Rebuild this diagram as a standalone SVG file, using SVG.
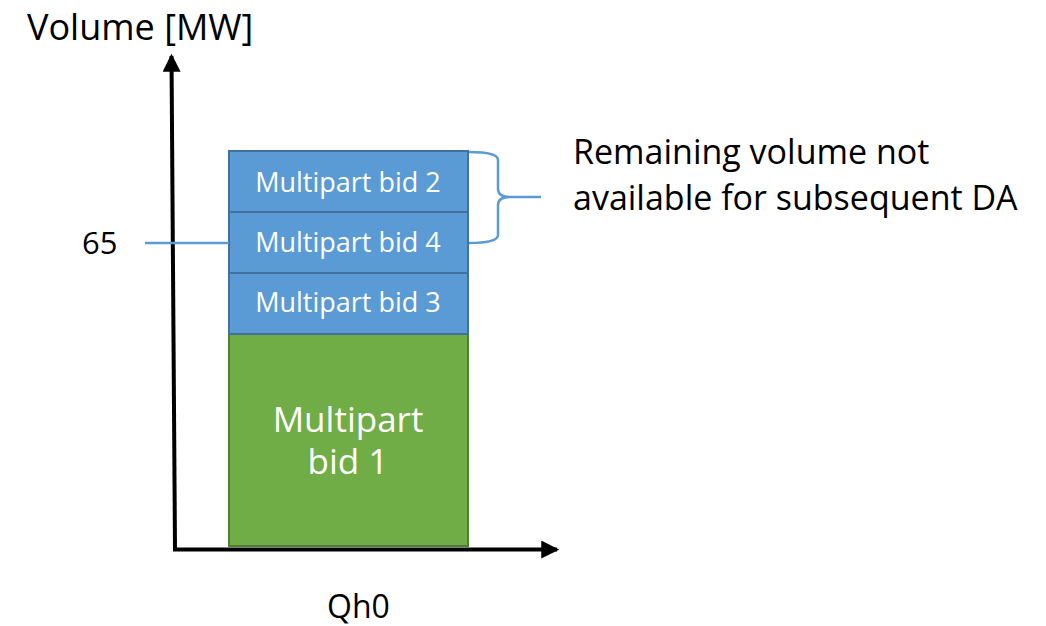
<svg xmlns="http://www.w3.org/2000/svg" width="1046" height="626" viewBox="0 0 1046 626">
  <style>
    text { font-family: "Open Sans", "Liberation Sans", sans-serif; }
    .lbl { fill: #000000; }
    .bidtxt { fill: #ffffff; font-size: 27px; text-anchor: middle; }
    .bigtxt { fill: #ffffff; font-size: 35px; text-anchor: middle; }
    .blue { fill: #5B9BD5; stroke: #41719C; stroke-width: 2; }
    .green { fill: #70AD47; stroke: #507E32; stroke-width: 2; }
    .axis { stroke: #000000; stroke-width: 4; fill: none; }
    .bline { stroke: #5B9BD5; stroke-width: 2.5; fill: none; }
  </style>
  <defs>
    <marker id="arrow" markerUnits="userSpaceOnUse" markerWidth="18" markerHeight="18" viewBox="0 0 16 16" refX="14" refY="8" orient="auto">
      <path d="M0,0 L16,8 L0,16 Z" fill="#000000"/>
    </marker>
  </defs>
  <rect width="1046" height="626" fill="#ffffff"/>

  <g id="bid1">
    <rect class="green" x="229" y="334" width="239" height="212"/>
    <text class="bigtxt" x="348" y="432">Multipart</text>
    <text class="bigtxt" x="348" y="474">bid 1</text>
  </g>
  <g id="bid3">
    <rect class="blue" x="229" y="273" width="239" height="61"/>
    <text class="bidtxt" x="348" y="312">Multipart bid 3</text>
  </g>
  <g id="bid4">
    <rect class="blue" x="229" y="212" width="239" height="61"/>
    <text class="bidtxt" x="348" y="252">Multipart bid 4</text>
  </g>
  <g id="bid2">
    <rect class="blue" x="229" y="151" width="239" height="61"/>
    <text class="bidtxt" x="348" y="192">Multipart bid 2</text>
  </g>

  <g id="connectors">
    <path class="axis" d="M175,550 L171.5,56" marker-end="url(#arrow)"/>
    <path class="axis" d="M173,549.5 L557,549.5" marker-end="url(#arrow)"/>
    <path class="bline" d="M145,243 L229,243"/>
    <path class="bline" d="M469,152 Q498,152 498,160 L498,189 Q498,197 510,197 L541,197 M510,197 Q498,197 498,205 L498,235 Q498,243 469,243"/>
  </g>

  <g id="labels">
    <text class="lbl" x="27" y="40" font-size="36">Volume [MW]</text>
    <text class="lbl" x="82" y="254" font-size="31">65</text>
    <text class="lbl" x="327" y="618" font-size="32">Qh0</text>
    <text class="lbl" x="573" y="164" font-size="34">Remaining volume not</text>
    <text class="lbl" x="573" y="210" font-size="34">available for subsequent DA</text>
  </g>
</svg>
